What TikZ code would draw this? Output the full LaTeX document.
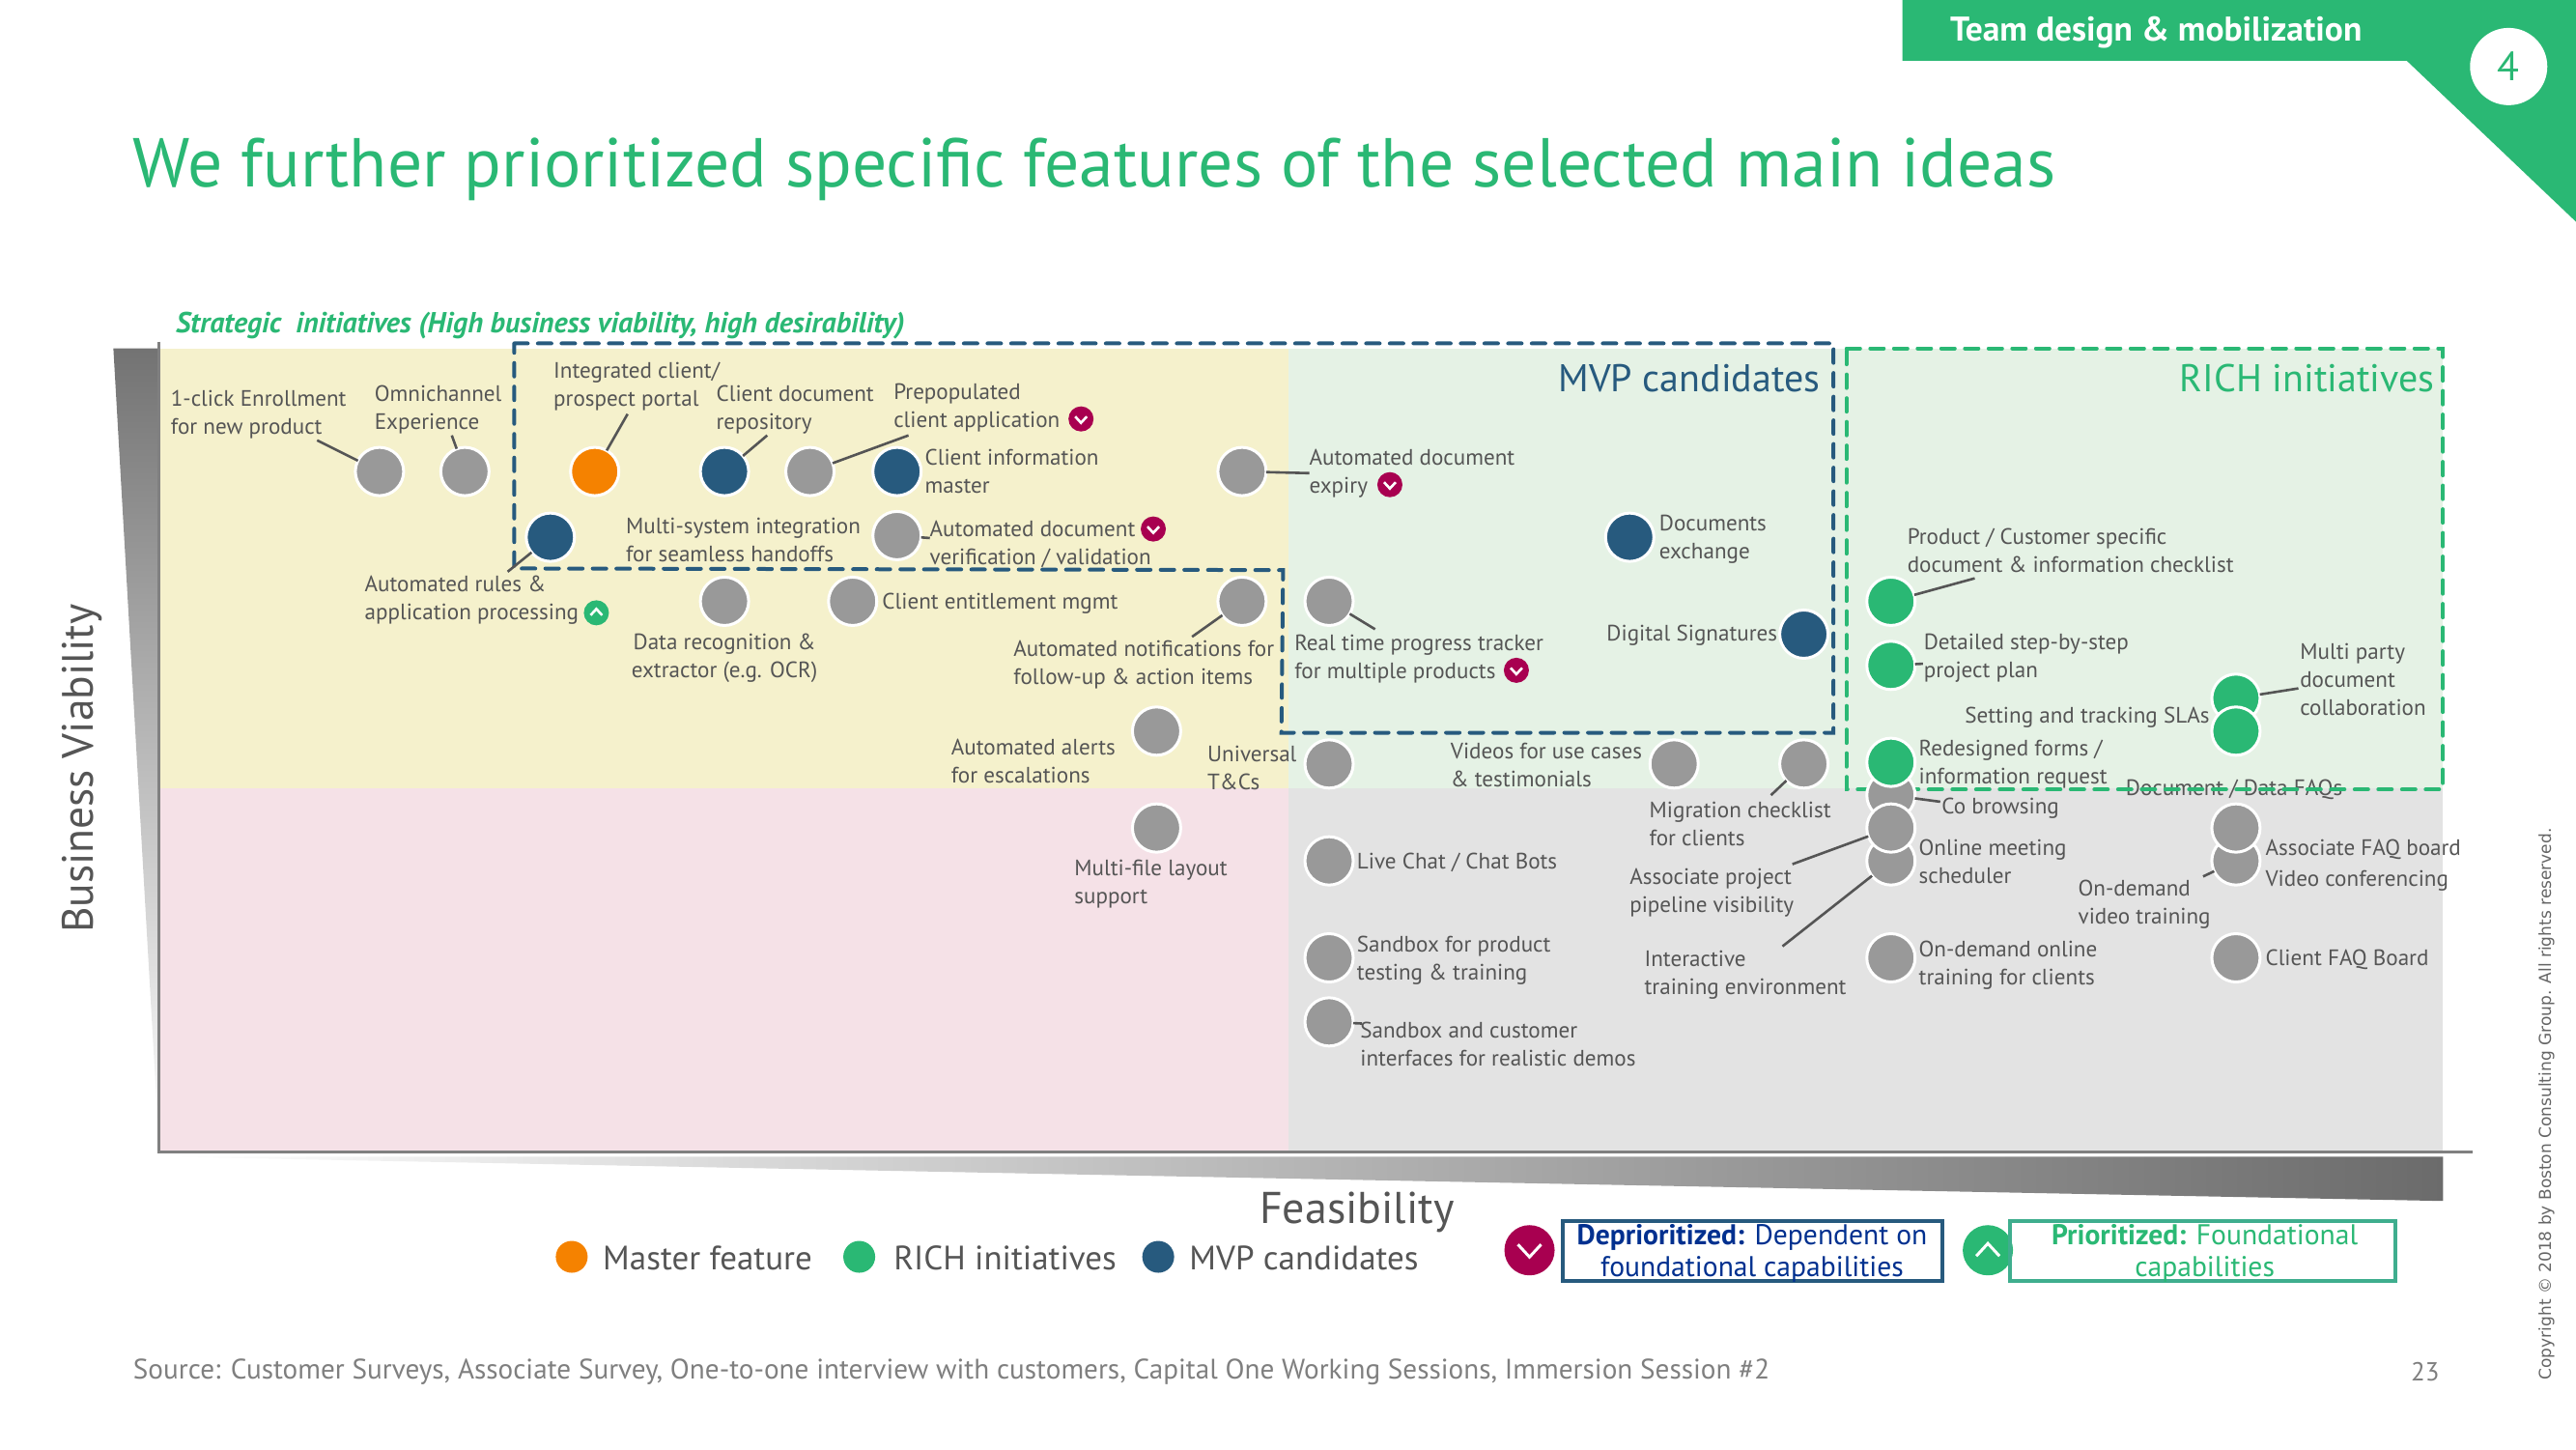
\documentclass[tikz,border=0pt]{standalone}
\usepackage{fontspec}
\setmainfont{PT Sans}
\newfontfamily\crfont{DejaVu Sans}
\definecolor{grn}{HTML}{2AB874}
\definecolor{blu}{HTML}{275A7E}
\definecolor{org}{HTML}{F58200}
\definecolor{crm}{HTML}{A80050}
\definecolor{gry}{HTML}{999999}
\definecolor{txt}{HTML}{555555}
\definecolor{srct}{HTML}{7F7F7F}
\definecolor{teal2}{HTML}{3FAE8E}
\definecolor{navy2}{HTML}{00308F}
\definecolor{qyel}{RGB}{245,241,204}
\definecolor{qgrn}{RGB}{229,242,229}
\definecolor{qpnk}{RGB}{245,225,231}
\definecolor{qgry}{RGB}{227,227,227}
\tikzset{
 dot/.style={circle,draw=white,line width=3pt,minimum size=50pt,inner sep=0pt,outer sep=0pt},
 gd/.style={dot,fill=gry}, gn/.style={dot,fill=grn}, bd/.style={dot,fill=blu}, od/.style={dot,fill=org},
 conn/.style={draw=txt,line width=2.6pt},
 lbl/.style={anchor=west,yshift=-1.5pt,inner sep=0pt,outer sep=0pt,align=left,text=txt,font=\fontsize{23.1}{29}\selectfont},
 lblc/.style={lbl,anchor=center,align=center},
 cbadge/.style={circle,fill=crm,minimum size=26pt,inner sep=0pt,
   path picture={\draw[white,line width=2.6pt]([xshift=-6pt,yshift=2.5pt]path picture bounding box.center)--([yshift=-4pt]path picture bounding box.center)--([xshift=6pt,yshift=2.5pt]path picture bounding box.center);}},
 ubadge/.style={circle,fill=grn,minimum size=26pt,inner sep=0pt,
   path picture={\draw[white,line width=2.6pt]([xshift=-6pt,yshift=-2.5pt]path picture bounding box.center)--([yshift=4pt]path picture bounding box.center)--([xshift=6pt,yshift=-2.5pt]path picture bounding box.center);}},
 bigc/.style={cbadge,minimum size=52pt,path picture={\draw[white,line width=3pt]([xshift=-12pt,yshift=6pt]path picture bounding box.center)--([yshift=-7pt]path picture bounding box.center)--([xshift=12pt,yshift=6pt]path picture bounding box.center);}},
 bigu/.style={ubadge,minimum size=52pt,path picture={\draw[white,line width=3pt]([xshift=-12pt,yshift=-6pt]path picture bounding box.center)--([yshift=7pt]path picture bounding box.center)--([xshift=12pt,yshift=-6pt]path picture bounding box.center);}},
 legdot/.style={circle,minimum size=33pt,inner sep=0pt},
 leg/.style={lbl,yshift=1.5pt,font=\fontsize{35}{40}\selectfont},
 dashbox/.style={line width=4pt,dash pattern=on 14pt off 10.5pt,line cap=round},
 keytxt/.style={inner sep=0pt,align=center,font=\fontsize{29.6}{32.5}\selectfont},
}
\begin{document}
\begin{tikzpicture}[x=1.70089pt,y=-1.70068pt]
\useasboundingbox (0,0) rectangle (1568,882);
% header
\fill[grn] (1158,0)--(1568,0)--(1568,135)--(1465,37)--(1158,37)--cycle;
\node[anchor=west,inner sep=0pt,text=white,font=\fontsize{35.5}{40}\selectfont\bfseries] (hdr) at (1187,20) {Team design \& mobilization};
\node[circle,fill=white,minimum size=80pt,inner sep=0pt,text=grn,font=\fontsize{42}{46}\selectfont] (four) at (1527,40.5) {4};
\node[anchor=west,inner sep=0pt,text=grn,font=\fontsize{71.6}{80}\selectfont] (title) at (81,103) {We further prioritized specific features of the selected main ideas};
% quadrants
\fill[qyel] (97,212) rectangle (784,480);
\fill[qgrn] (784,212) rectangle (1487,480);
\fill[qpnk] (97,480) rectangle (784,701);
\fill[qgry] (784,480) rectangle (1487,701);
% axes
\shade[top color=black!55,bottom color=white] (69,212)--(97,212)--(97,701)--cycle;
\shade[left color=white,right color=black!58] (97,704)--(1487,704)--(1487,731)--cycle;
\draw[black!50,line width=3pt] (97,208)--(97,701)--(1505,701);
\node[anchor=west,inner sep=0pt,text=grn,font=\fontsize{30}{34}\selectfont\bfseries\itshape] (strat) at (107,198) {Strategic\ \ initiatives (High business viability, high desirability)};
\node[anchor=east,inner sep=0pt,text=blu,font=\fontsize{40}{46}\selectfont] (mvpt) at (1108,230) {MVP candidates};
\node[anchor=east,inner sep=0pt,text=grn,font=\fontsize{40}{46}\selectfont] (richt) at (1482,230) {RICH initiatives};
% dashed groups
\draw[blu,dashbox] (313,209)--(1116,209)--(1116,446)--(780,446)--(781,347)--(313,346)--cycle;
\node[lbl] (t44) at (1294,480) {Document / Data FAQs};
\draw[grn,dashbox] (1124,212)--(1487,212)--(1487,480.5)--(1124,480.5)--cycle;
% circles
\node[gd] (c1) at (231,287) {};
\node[gd] (c2) at (283,287) {};
\node[od] (c3) at (362,287) {};
\node[bd] (c4) at (441,287) {};
\node[gd] (c5) at (493,287) {};
\node[bd] (c6) at (546,287) {};
\node[gd] (c7) at (756,287) {};
\node[bd] (c8) at (335,327) {};
\node[gd] (c9) at (546,326) {};
\node[bd] (c10) at (992,327) {};
\node[gd] (c11) at (441,366) {};
\node[gd] (c12) at (519,366) {};
\node[gd] (c13) at (756,366) {};
\node[gd] (c14) at (809,366) {};
\node[gn] (c15) at (1151,366) {};
\node[bd] (c16) at (1098,386) {};
\node[gn] (c17) at (1151,405) {};
\node[gd] (c18) at (704,445) {};
\node[gn] (c19) at (1361,425) {};
\node[gn] (c20) at (1361,445) {};
\node[gd] (c21) at (809,465) {};
\node[gd] (c22) at (1019,465) {};
\node[gd] (c23) at (1098,465) {};
\node[gd] (c25) at (1151,484) {};
\node[gd] (c27) at (1151,524) {};
\node[gd] (c26) at (1151,504) {};
\node[gn] (c24) at (1151,464) {};
\node[gd] (c28) at (704,504) {};
\node[gd] (c30) at (1361,524) {};
\node[gd] (c29) at (1361,504) {};
\node[gd] (c31) at (809,524) {};
\node[gd] (c32) at (809,583) {};
\node[gd] (c33) at (1151,583) {};
\node[gd] (c34) at (1361,583) {};
\node[gd] (c35) at (809,622) {};
% connector free ends
\coordinate (e1) at (193,268);
\coordinate (e2) at (275,265);
\coordinate (e3) at (382,252);
\coordinate (e4) at (467,265);
\coordinate (e5) at (553,265);
\coordinate (e8) at (309,348);
\coordinate (e9) at (566,327.5);
\coordinate (e7) at (797,288);
\coordinate (e13) at (725.6,387.6);
\coordinate (e14) at (837,383);
\coordinate (e15) at (1202,352);
\coordinate (e17) at (1170.5,404);
\coordinate (e19) at (1399,419);
\coordinate (e23) at (1078,484);
\coordinate (e25) at (1181,488);
\coordinate (e26) at (1091,526);
\coordinate (e27) at (1085,576);
\coordinate (e30) at (1341,533.5);
\coordinate (e35) at (829,623);
\foreach \a/\b in {c1/e1,c2/e2,c3/e3,c4/e4,c5/e5,c8/e8,c9/e9,c7/e7,c13/e13,c14/e14,c15/e15,c17/e17,c19/e19,c23/e23,c25/e25,c26/e26,c27/e27,c30/e30,c35/e35}
  \draw[conn] (\a) -- (\b);
% labels
\node[lbl] (t1) at (104,251.5) {1-click Enrollment\\for new product};
\node[lbl] (t2) at (228,248.5) {Omnichannel\\Experience};
\node[lbl] (t3) at (337,234.5) {Integrated client/\\prospect portal};
\node[lbl] (t4) at (436,248.5) {Client document\\repository};
\node[lbl] (t5) at (544,247.5) {Prepopulated\\client application};
\node[lbl] (t6) at (563,286) {Client information\\master};
\node[lbl] (t7) at (797,287.5) {Automated document\\expiry};
\node[lbl] (t8) at (381,327.5) {Multi-system integration\\for seamless handoffs};
\node[lbl] (t9) at (566,330.5) {Automated document\\verification / validation};
\node[lbl] (t10) at (1010,327.5) {Documents\\exchange};
\node[lbl] (t11) at (222,364.5) {Automated rules \&\\application processing};
\node[lblc] (t12) at (441,399.5) {Data recognition \&\\extractor (e.g. OCR)};
\node[lbl] (t13) at (537,366.5) {Client entitlement mgmt};
\node[lbl] (t14) at (617,403.5) {Automated notifications for\\follow-up \& action items};
\node[lbl] (t15) at (788,400) {Real time progress tracker\\for multiple products};
\node[lbl] (t16) at (978,386) {Digital Signatures};
\node[lbl] (t17) at (1161,334.5) {Product / Customer specific\\document \& information checklist};
\node[lbl] (t18) at (1171,399.5) {Detailed step-by-step\\project plan};
\node[lbl] (t19) at (1400,413) {Multi party\\document\\collaboration};
\node[lbl] (t20) at (1196,436) {Setting and tracking SLAs};
\node[lbl] (t21) at (1168,464) {Redesigned forms /\\information request};
\node[lbl] (t22) at (579,462.5) {Automated alerts\\for escalations};
\node[lbl] (t23) at (735,466.5) {Universal\\T\&Cs};
\node[lbl] (t24) at (883,464.5) {Videos for use cases\\\& testimonials};
\node[lbl] (t25) at (1004,500.5) {Migration checklist\\for clients};
\node[lbl] (t26) at (1182,491) {Co browsing};
\node[lbl] (t27) at (1168,523.5) {Online meeting\\scheduler};
\node[lbl] (t28) at (1379,516) {Associate FAQ board};
\node[lbl] (t29) at (1379,535) {Video conferencing};
\node[lbl] (t30) at (654,537.5) {Multi-file layout\\support};
\node[lbl] (t31) at (826,524) {Live Chat / Chat Bots};
\node[lbl] (t32) at (992,542.5) {Associate project\\pipeline visibility};
\node[lbl] (t33) at (826,583.5) {Sandbox for product\\testing \& training};
\node[lbl] (t34) at (1265,549.5) {On-demand\\video training};
\node[lbl] (t35) at (1001,592.5) {Interactive\\training environment};
\node[lbl] (t36) at (1168,586.5) {On-demand online\\training for clients};
\node[lbl] (t37) at (1379,583) {Client FAQ Board};
\node[lbl] (t38) at (828,634.5) {Sandbox and customer\\interfaces for realistic demos};
% badges
\node[cbadge] (b1) at (658,255) {};
\node[cbadge] (b2) at (846,295) {};
\node[cbadge] (b3) at (702,322) {};
\node[cbadge] (b4) at (923,408) {};
\node[ubadge] (b5) at (363,373) {};
% axis titles
\node[lbl,anchor=center,font=\fontsize{46}{52}\selectfont] (feas) at (826,737) {Feasibility};
\node[lbl,anchor=center,rotate=90,yshift=1.5pt,font=\fontsize{45.5}{52}\selectfont] (bv) at (51,467) {Business Viability};
% legend
\node[legdot,fill=org] (l1) at (348,765) {};
\node[leg] (l1t) at (367,766) {Master feature};
\node[legdot,fill=grn] (l2) at (523,765) {};
\node[leg] (l2t) at (544,766) {RICH initiatives};
\node[legdot,fill=blu] (l3) at (705,765) {};
\node[leg] (l3t) at (724,766) {MVP candidates};
\node[bigc] (b6) at (931,761) {};
\node[draw=blu,line width=4pt,minimum width=393pt,minimum height=62pt,inner sep=0pt] (dep) at (1066.5,761.5) {};
\node[keytxt,text=navy2] (dept) at (1066.5,763) {\textbf{Deprioritized:} Dependent on\\foundational capabilities};
\node[bigu] (b7) at (1210,761) {};
\node[draw=teal2,line width=4pt,minimum width=399pt,minimum height=62pt,inner sep=0pt] (pri) at (1340.5,761.5) {};
\node[keytxt,text=grn] (prit) at (1342,763) {\textbf{Prioritized:} Foundational\\capabilities};
% footer
\node[anchor=west,inner sep=0pt,text=srct,font=\fontsize{29.2}{34}\selectfont] (src) at (81,835) {Source: Customer Surveys, Associate Survey, One-to-one interview with customers, Capital One Working Sessions, Immersion Session \#2};
\node[anchor=east,inner sep=0pt,text=srct,font=\fontsize{27}{32}\selectfont] (pg) at (1485,835) {23};
\node[anchor=west,rotate=90,inner sep=0pt,text=srct!80!black,font=\crfont\fontsize{17}{20}\selectfont] (copy) at (1550,840) {Copyright © 2018 by Boston Consulting Group. All rights reserved.};
\end{tikzpicture}
\end{document}
